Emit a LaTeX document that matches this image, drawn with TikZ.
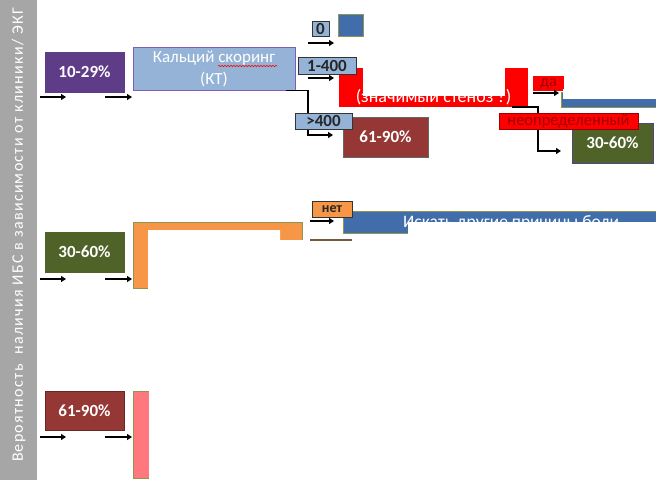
\documentclass[tikz,border=0pt]{standalone}
\usepackage{fontspec}
\setmainfont{Carlito}
\newfontfamily\barfont[LetterSpace=8]{Carlito}
\usetikzlibrary{arrows.meta,decorations.pathmorphing}
\definecolor{barGray}{RGB}{166,166,166}
\definecolor{purp}{RGB}{95,60,135}
\definecolor{lblue}{RGB}{149,179,215}
\definecolor{violet}{RGB}{125,95,185}
\definecolor{olive}{RGB}{79,98,40}
\definecolor{olivel}{RGB}{140,150,80}
\definecolor{maroon}{RGB}{149,55,53}
\definecolor{orng}{RGB}{247,150,70}
\definecolor{blu}{RGB}{65,110,170}
\definecolor{pink}{RGB}{255,120,125}
\definecolor{dred}{RGB}{160,0,0}
\definecolor{brn}{RGB}{120,90,60}
\begin{document}
\begin{tikzpicture}[x=1pt,y=-1pt,
  box/.style={draw, line width=1pt, inner sep=0pt, text=white, align=center,
    font=\fontsize{17}{20}\selectfont\bfseries},
  lbl/.style={draw=black!80, line width=1pt, inner sep=0pt, text=black!85,
    font=\fontsize{17}{17}\selectfont\bfseries},
  arr/.style={line width=2.4pt, -{Triangle[length=5pt,width=6pt]}},
  conn/.style={line width=1.8pt, -{Triangle[length=5pt,width=6pt]}},
  cover/.style={fill=white, draw=none}]
\useasboundingbox (0,0) rectangle (656,480);
% side bar
\fill[barGray] (0,0) rectangle (37,480);
\node[rotate=90, text=white, font=\fontsize{16}{17}\barfont] (side) at (18.5,235)
  {Вероятность\ \ наличия ИБС в зависимости от клиники/ ЭКГ};
% row 1
\node[box, fill=purp, draw=purp, minimum width=79pt, minimum height=40pt] (p1) at (84.5,72) {10-29\%};
\node[box, fill=lblue, draw=violet, minimum width=162pt, minimum height=43pt,
  font=\fontsize{17}{22}\selectfont] (calc) at (214,68.5) {Кальций скоринг\\(КТ)};
\draw[red, line width=0.6pt, decorate, decoration={snake, amplitude=0.7pt, segment length=3pt}]
  (218,66) -- (277,66);
\coordinate (r1a) at (40,97); \coordinate (r1b) at (66,97);
\coordinate (r1c) at (105,97); \coordinate (r1d) at (132,97);
\draw[arr] (r1a) -- (r1b);
\draw[arr] (r1c) -- (r1d);
% red box (partly hidden)
\node[fill=red, minimum width=189pt, minimum height=39pt, inner sep=0pt] (redb) at (433.5,87.5) {};
\node[text=white, font=\fontsize{18}{20}\selectfont, inner sep=0pt, anchor=base] (redt) at (433.5,102) {(значимый стеноз ?)};
\fill[white] (363,66) rectangle (504.5,96);
% maroon 61-90
\node[box, fill=maroon, draw=black!60, minimum width=85pt, minimum height=40pt] (p61a) at (385.5,137) {61-90\%};
% score branches
\coordinate (k400) at (308,135); \coordinate (e400) at (333,135);
\draw[conn] ([xshift=-10pt]calc.south east) -| (k400) -- (e400);
\node[lbl, fill=lblue, minimum width=57pt, minimum height=16pt] (g400) at (323.5,121) {>400};
\node[lbl, fill=lblue, minimum width=58pt, minimum height=17pt] (m400) at (327,65.5) {1-400};
\node[lbl, fill=lblue, minimum width=17pt, minimum height=15pt] (zero) at (320.5,28.5) {0};
\coordinate (z1) at (308,43); \coordinate (z2) at (334,43);
\coordinate (m1) at (308,78); \coordinate (m2) at (334,78);
\draw[arr] (z1) -- (z2);
\draw[arr] (m1) -- (m2);
\node[draw=olivel, fill=blu, line width=1pt, minimum width=25pt, minimum height=22pt, inner sep=0pt] (zb) at (350.5,25) {};
% yes branch
\node[fill=red, minimum width=31pt, minimum height=15pt, inner sep=0pt, text=dred,
  font=\fontsize{16}{16}\selectfont] (yes) at (548.5,83.5) {да};
\coordinate (y1) at (533,93); \coordinate (y2) at (559,93);
\draw[arr] (y1) -- (y2);
\node[draw=olivel, fill=blu, line width=1.2pt, minimum width=100pt, minimum height=15pt, inner sep=0pt, anchor=north west] (yb) at (560.5,91.5) {};
\fill[white] (562.5,89) rectangle (656,99);
% undetermined branch
\node[box, fill=olive, draw=violet!70!black, minimum width=81pt, minimum height=40pt] (p30a) at (612.5,143) {30-60\%};
\coordinate (u1) at (538,151); \coordinate (u2) at (561,151);
\draw[conn] ([xshift=-16pt]redb.south east) -| (u1) -- (u2);
\node[fill=red, draw=dred, line width=0.8pt, minimum width=139pt, minimum height=16pt, inner sep=0pt, text=dred,
  font=\fontsize{16.5}{16}\selectfont] (und) at (568.5,121) {неопределенный};
% row 2
\node[box, fill=olive, draw=olive, minimum width=79pt, minimum height=40pt] (p2) at (84.5,252) {30-60\%};
\coordinate (r2a) at (40,279); \coordinate (r2b) at (66,279);
\coordinate (r2c) at (105,279); \coordinate (r2d) at (132,279);
\draw[arr] (r2a) -- (r2b);
\draw[arr] (r2c) -- (r2d);
\node[fill=orng, draw=olivel, line width=1pt, minimum width=169pt, minimum height=66pt, inner sep=0pt] (orb) at (217.5,255) {};
\fill[white] (148,230) -- (280,230) -- (280,240) -- (305,240) -- (305,296) -- (148,296) -- cycle;
\node[fill=blu, draw=olivel, line width=1pt, minimum width=320pt, minimum height=22pt, inner sep=0pt, anchor=north west] (other) at (343,211) {};
\node[text=white, font=\fontsize{17.5}{20}\selectfont, inner sep=0pt, anchor=base west] (othert) at (403,227.5) {Искать другие причины боли};
\fill[white] (408,222) rectangle (656,238);
\node[lbl, fill=orng, minimum width=40pt, minimum height=16pt, font=\fontsize{14}{14}\selectfont\bfseries] (no) at (332,209) {нет};
\coordinate (n1) at (310,221); \coordinate (n2) at (334,221);
\draw[arr] (n1) -- (n2);
\coordinate (b1) at (310,240); \coordinate (b2) at (352,240);
\draw[brn, line width=1.3pt] (b1) -- (b2);
% row 3
\node[box, fill=maroon, draw=maroon!70!black, minimum width=79pt, minimum height=39pt] (p3) at (84.5,410.5) {61-90\%};
\coordinate (r3a) at (40,437); \coordinate (r3b) at (66,437);
\coordinate (r3c) at (105,437); \coordinate (r3d) at (132,437);
\draw[arr] (r3a) -- (r3b);
\draw[arr] (r3c) -- (r3d);
\node[fill=pink, draw=olivel, line width=1pt, minimum width=169pt, minimum height=87pt, inner sep=0pt, anchor=north west] (pk) at (133,391) {};
\fill[white] (148.5,386) rectangle (310,482);
\end{tikzpicture}
\end{document}
